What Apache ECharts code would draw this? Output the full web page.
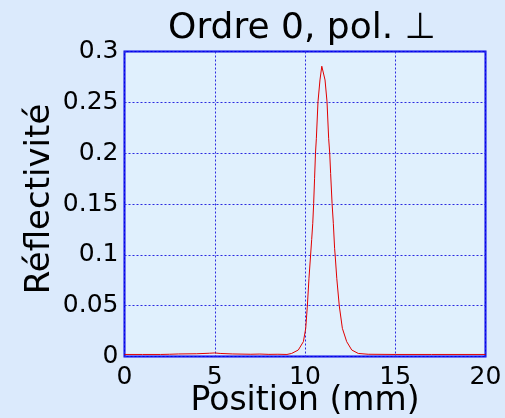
<!DOCTYPE html>
<html><head><meta charset="utf-8">
<script src="https://cdn.jsdelivr.net/npm/echarts@6/dist/echarts.min.js"></script>
<style>html,body{margin:0;padding:0;background:#dbeafc;}#c{width:505px;height:418px;}</style>
</head><body><div id="c"></div>
<script>
const titleText = 'Ordre 0, pol. \u22A5';
const xName = 'Position (mm)';
const yName = 'R\u00e9flectivit\u00e9';
const xTicks = [0, 5, 10, 15, 20];
const yTicks = [0, 0.05, 0.1, 0.15, 0.2, 0.25, 0.3];
const positions = [0, 1, 2, 2.5, 3, 4, 4.7, 5, 5.3, 6, 7, 7.5, 8, 8.5, 9, 9.26, 9.63, 9.91, 10.04, 10.13, 10.22, 10.31, 10.37, 10.43, 10.48, 10.53, 10.58, 10.63, 10.72, 10.83, 10.93, 10.98, 11.02, 11.11, 11.22, 11.31, 11.37, 11.42, 11.50, 11.57, 11.64, 11.67, 11.76, 11.90, 12.07, 12.31, 12.59, 12.95, 13.5, 15, 17, 20];
const reflect = [0.002, 0.002, 0.002, 0.0022, 0.0025, 0.0027, 0.0032, 0.0035, 0.003, 0.0025, 0.0022, 0.0024, 0.0021, 0.0022, 0.002, 0.003, 0.0064, 0.0146, 0.0277, 0.0497, 0.0769, 0.0998, 0.1150, 0.131, 0.1506, 0.175, 0.1998, 0.2146, 0.2505, 0.272, 0.2855, 0.2866, 0.2855, 0.272, 0.2505, 0.2146, 0.1998, 0.180, 0.1506, 0.131, 0.1064, 0.0998, 0.0769, 0.0497, 0.0277, 0.0146, 0.0064, 0.003, 0.0022, 0.002, 0.002, 0.002];

const chart = echarts.init(document.getElementById('c'));
const font = 'DejaVu Sans, sans-serif';
const gridLine = {show: true, lineStyle: {color: '#2a2ae0', width: 1, type: [2, 2]}};
chart.setOption({
  backgroundColor: '#dbeafc',
  animation: false,
  title: {text: titleText, left: 297, textAlign: 'center', top: 6,
    textStyle: {fontFamily: font, fontSize: 36, fontWeight: 'normal', color: '#000'}},
  grid: {left: 124.5, right: 19.5, top: 51.5, bottom: 61.5, show: true,
    outerBoundsMode: 'none', containLabel: false,
    backgroundColor: '#e0f0fd', borderColor: '#0000ee', borderWidth: 2},
  xAxis: {type: 'value', min: xTicks[0], max: xTicks[xTicks.length - 1], interval: 5,
    name: xName, nameLocation: 'middle', nameGap: 28, nameMoveOverlap: false,
    nameTextStyle: {fontFamily: font, fontSize: 33, color: '#000', verticalAlign: 'top'},
    axisLine: {show: false}, axisTick: {show: false},
    axisLabel: {fontFamily: font, fontSize: 25, color: '#000', margin: 8},
    splitLine: gridLine},
  yAxis: {type: 'value', min: yTicks[0], max: yTicks[yTicks.length - 1], interval: 0.05,
    name: yName, nameLocation: 'middle', nameGap: 67, nameRotate: 90, nameMoveOverlap: false,
    nameTextStyle: {fontFamily: font, fontSize: 34, color: '#000', padding: [0, 0, 0, 10]},
    axisLine: {show: false}, axisTick: {show: false},
    axisLabel: {fontFamily: font, fontSize: 25, color: '#000', margin: 6,
      padding: [0, 0, 8, 0],
      formatter: v => String(+v.toFixed(2))},
    splitLine: gridLine},
  series: [{type: 'line', data: positions.map((p, i) => [p, reflect[i]]),
    showSymbol: false, lineStyle: {color: '#e00000', width: 1}, z: 5}]
});
</script></body></html>
